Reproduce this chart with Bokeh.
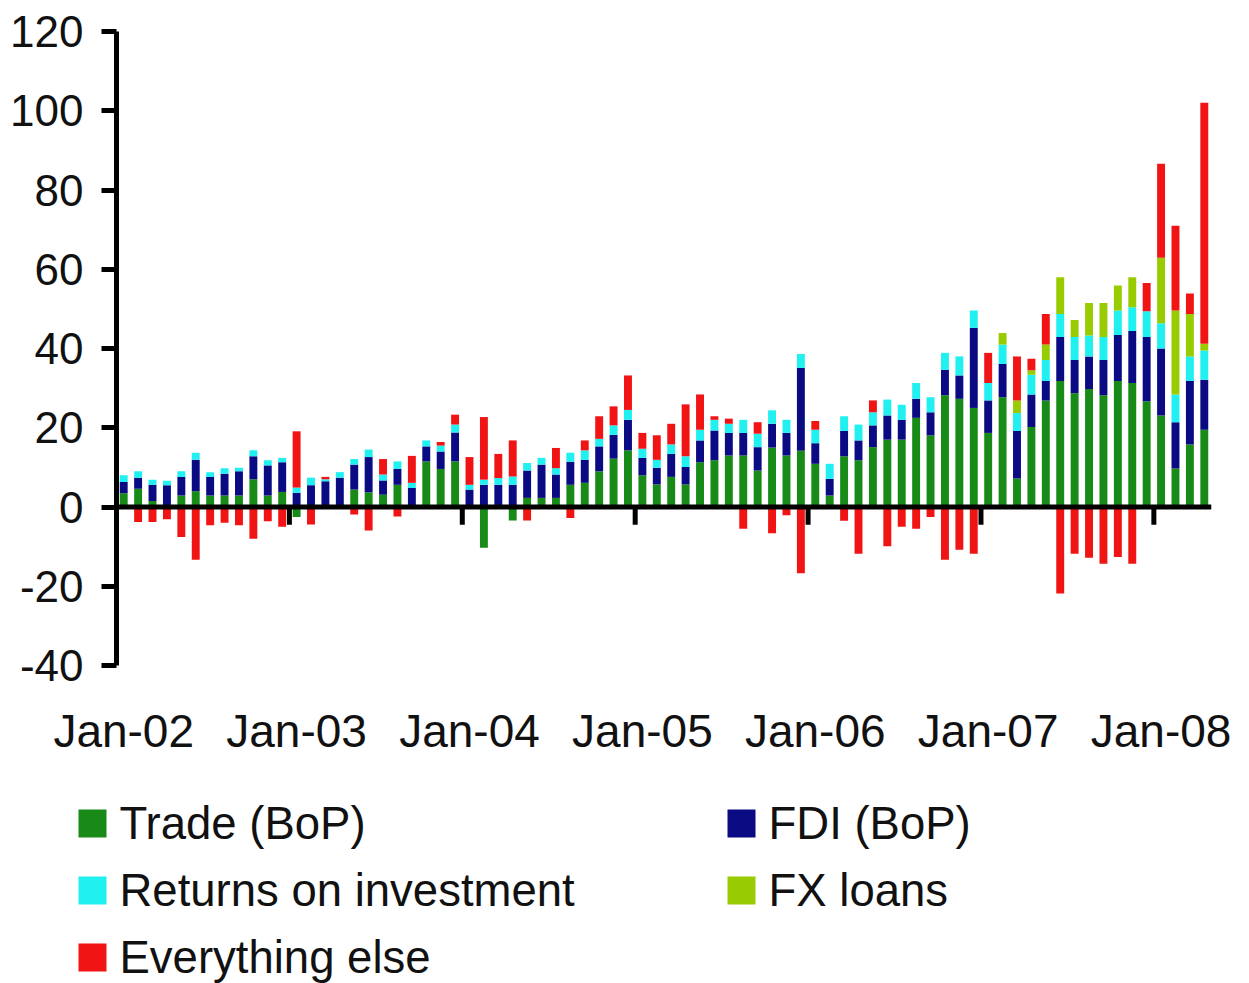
import numpy as np
import pandas as pd
from bokeh.plotting import figure
from bokeh.layouts import column
from bokeh.models import Range1d, FixedTicker, Span, ColumnDataSource
from bokeh.core.properties import value
from bokeh.embed import file_html
from bokeh.resources import INLINE

# Monthly categories Jan-02 .. Apr-08
months = [d.strftime("%b-%y") for d in pd.date_range("2002-01-01", periods=76, freq="MS")]

trade = [3.5, 4.6, 1.5, 0.3, 2.9, 4.0, 2.9, 2.9, 2.9, 7.0, 2.9, 3.8,
         -2.5, 0, 0, 0, 4.4, 3.7, 3.1, 5.6, 0, 11.5, 9.6, 11.5,
         0, -10.3, 0, -3.4, 2.3, 2.3, 2.3, 5.6,
         6.1, 9.0, 12.2, 14.3, 8.0, 5.7, 7.6, 5.7, 11.3, 11.8, 13.0, 13.0,
         9.2, 15.0, 13.0, 14.2, 10.9, 2.9, 12.8, 11.8, 15.1, 17.0, 17.0, 22.5,
         18.1, 28.2, 27.3, 25.0, 18.7, 27.7, 7.2, 20.2, 26.9, 31.8, 28.7, 29.8,
         28.2, 31.8, 31.3, 26.7, 23.1, 9.7, 15.8, 19.5]

fdi = [2.8, 2.8, 4.1, 5.2, 4.7, 7.9, 4.7, 5.5, 6.1, 5.8, 7.6, 7.5,
       3.6, 5.5, 6.5, 7.4, 6.3, 8.9, 3.6, 4.0, 4.8, 3.8, 4.4, 7.3,
       4.4, 5.6, 5.6, 5.6, 6.9, 8.4, 5.9, 5.8,
       5.8, 6.3, 6.0, 7.7, 4.4, 4.2, 5.8, 4.4, 5.5, 7.5, 5.7, 5.7,
       5.9, 6.0, 5.7, 20.9, 5.2, 4.2, 6.4, 5.0, 5.5, 6.1, 5.0, 4.8,
       5.8, 6.4, 5.9, 20.2, 8.2, 8.4, 12.0, 8.2, 4.9, 11.1, 8.4, 8.2,
       8.9, 11.6, 13.1, 16.2, 16.9, 11.7, 16.0, 12.6]

returns = [1.7, 1.6, 1.3, 1.1, 1.4, 1.8, 1.2, 1.4, 0.9, 1.5, 1.3, 1.1,
           1.3, 1.9, 0.5, 1.4, 1.4, 1.9, 1.5, 1.9, 1.3, 1.5, 1.5, 2.0,
           1.2, 1.3, 1.7, 2.1, 1.9, 1.7, 1.6, 2.3,
           2.4, 1.9, 2.4, 2.5, 2.3, 2.0, 2.4, 2.7, 2.7, 2.7, 2.3, 3.3,
           3.4, 3.4, 3.3, 3.5, 3.4, 3.8, 3.7, 4.0, 3.3, 4.0, 3.8, 4.0,
           3.8, 4.3, 4.8, 4.4, 4.4, 4.9, 4.5, 5.0, 5.3, 5.8, 5.8, 5.3,
           5.8, 6.2, 6.0, 6.5, 6.4, 7.0, 6.2, 7.4]

fx_loans = [0] * 61 + [2.9, 3.2, 1.1, 3.9, 9.3, 4.3, 8.2, 8.6, 6.3, 7.6, 0, 16.5, 21.2, 10.7, 1.7]

everything_else = [0, -3.8, -3.8, -3.1, -7.6, -13.3, -4.6, -4.0, -4.6, -8.0, -3.6, -5.0,
                   14.2, -4.4, 0.6, 0, -1.9, -5.9, 3.9, -2.4, 6.8, 0, 0.9, 2.5,
                   7.0, 15.8, 6.1, 9.1, -3.4, 0, 5.1, -2.8,
                   2.5, 5.7, 4.8, 8.7, 4.0, 6.2, 5.2, 13.1, 8.9, 0.9, 1.3, -5.5,
                   2.9, -6.6, -2.1, -16.7, 2.2, 0, -3.5, -11.8, 3.0, -9.9, -5.0, -5.5,
                   -2.5, -13.3, -10.8, -11.8, 7.6, 0, 11.1, 2.9, 7.7, -21.8, -11.8, -12.8,
                   -14.3, -12.6, -14.3, 7.1, 23.7, 21.4, 5.2, 60.8]

series_names = ["Trade (BoP)", "FDI (BoP)", "Returns on investment", "FX loans", "Everything else"]
series_values = [trade, fdi, returns, fx_loans, everything_else]
series_colors = ["#178a17", "#0a0a82", "#20f0f0", "#99cc00", "#f01414"]

y_ticks = [-40, -20, 0, 20, 40, 60, 80, 100, 120]

FONT = "Liberation Sans"
TXT = "#111111"

n = len(months)
x = np.arange(n)

p = figure(width=1240, height=770, x_range=Range1d(-0.5, n - 0.5), y_range=Range1d(-40, 120),
           output_backend="svg", toolbar_location=None,
           min_border_left=116, min_border_right=29, min_border_top=31, min_border_bottom=105)
p.outline_line_color = None
p.xgrid.visible = False
p.ygrid.visible = False

pos_base = np.zeros(n)
neg_base = np.zeros(n)
for name, vals, color in zip(series_names, series_values, series_colors):
    v = np.array(vals, dtype=float)
    pos = np.where(v > 0, v, 0.0)
    neg = np.where(v < 0, v, 0.0)
    src = ColumnDataSource(dict(x=x, b=pos_base.copy(), t=pos_base + pos,
                                nb=neg_base + neg, nt=neg_base.copy()))
    p.vbar(x="x", bottom="b", top="t", width=0.55, fill_color=color, line_color=None, source=src)
    p.vbar(x="x", bottom="nb", top="nt", width=0.55, fill_color=color, line_color=None, source=src)
    pos_base = pos_base + pos
    neg_base = neg_base + neg

# zero line and January tick marks below it
p.add_layout(Span(location=0, dimension="width", line_color="black", line_width=5))
jan_idx = [i for i, m in enumerate(months) if m.startswith("Jan")]
tick_x = [i - 0.5 for i in jan_idx[1:]]
p.segment(x0=tick_x, y0=[0] * len(tick_x), x1=tick_x, y1=[-4.5] * len(tick_x),
          line_color="black", line_width=5)

# x axis: labels only
p.xaxis.ticker = FixedTicker(ticks=jan_idx)
p.xaxis.major_label_overrides = {i: months[i] for i in jan_idx}
p.xaxis.axis_line_color = None
p.xaxis.major_tick_line_color = None
p.xaxis.minor_tick_line_color = None
p.xaxis.major_tick_out = 0
p.xaxis.major_tick_in = 0
p.xaxis.major_label_standoff = 39
p.xaxis.major_label_text_font_size = "46px"
p.xaxis.major_label_text_font = FONT
p.xaxis.major_label_text_color = TXT

# y axis
p.yaxis.ticker = FixedTicker(ticks=y_ticks)
p.yaxis.major_label_overrides = {t: str(t) for t in y_ticks}
p.yaxis.axis_line_width = 5
p.yaxis.axis_line_color = "black"
p.yaxis.major_tick_line_width = 5
p.yaxis.major_tick_line_color = "black"
p.yaxis.major_tick_out = 15
p.yaxis.major_tick_in = 0
p.yaxis.minor_tick_line_color = None
p.yaxis.major_label_standoff = 18
p.yaxis.major_label_text_font_size = "44px"
p.yaxis.major_label_text_font = FONT
p.yaxis.major_label_text_color = TXT

# legend panel: a plain figure whose units are pixels (y downward)
LW, LH = 1240, 213
lg = figure(width=LW, height=LH, x_range=Range1d(0, LW), y_range=Range1d(LH, 0),
            output_backend="svg", toolbar_location=None, x_axis_type=None, y_axis_type=None,
            min_border=0, min_border_left=0, min_border_right=0, min_border_top=0, min_border_bottom=0)
lg.outline_line_color = None
lg.xgrid.visible = False
lg.ygrid.visible = False
for fig in (p, lg):
    try:
        fig.frame_align = False
    except Exception:
        pass

legend_order = ["Trade (BoP)", "FDI (BoP)", "Returns on investment", "FX loans", "Everything else"]
col_left = [78, 727]      # swatch left edge of each legend column (px)
row_mid = [53, 120, 187]  # vertical centre of each legend row (px)
SW, GAP = 28, 13
sw_x, sw_y, lab_x, sw_c, labels = [], [], [], [], []
for k, nm in enumerate(legend_order):
    c, r = k % 2, k // 2
    sw_x.append(col_left[c] + SW / 2)
    sw_y.append(row_mid[r])
    lab_x.append(col_left[c] + SW + GAP)
    sw_c.append(series_colors[series_names.index(nm)])
    labels.append(nm)
lg.rect(x=sw_x, y=sw_y, width=SW, height=SW, fill_color=sw_c, line_color=None)
lg.text(x=lab_x, y=sw_y, text=labels, text_align="left", text_baseline="middle",
        text_font=value(FONT), text_font_size="45.5px", text_color=TXT)

layout = column(p, lg, spacing=0)
open("out.html", "w").write(file_html(layout, INLINE))
